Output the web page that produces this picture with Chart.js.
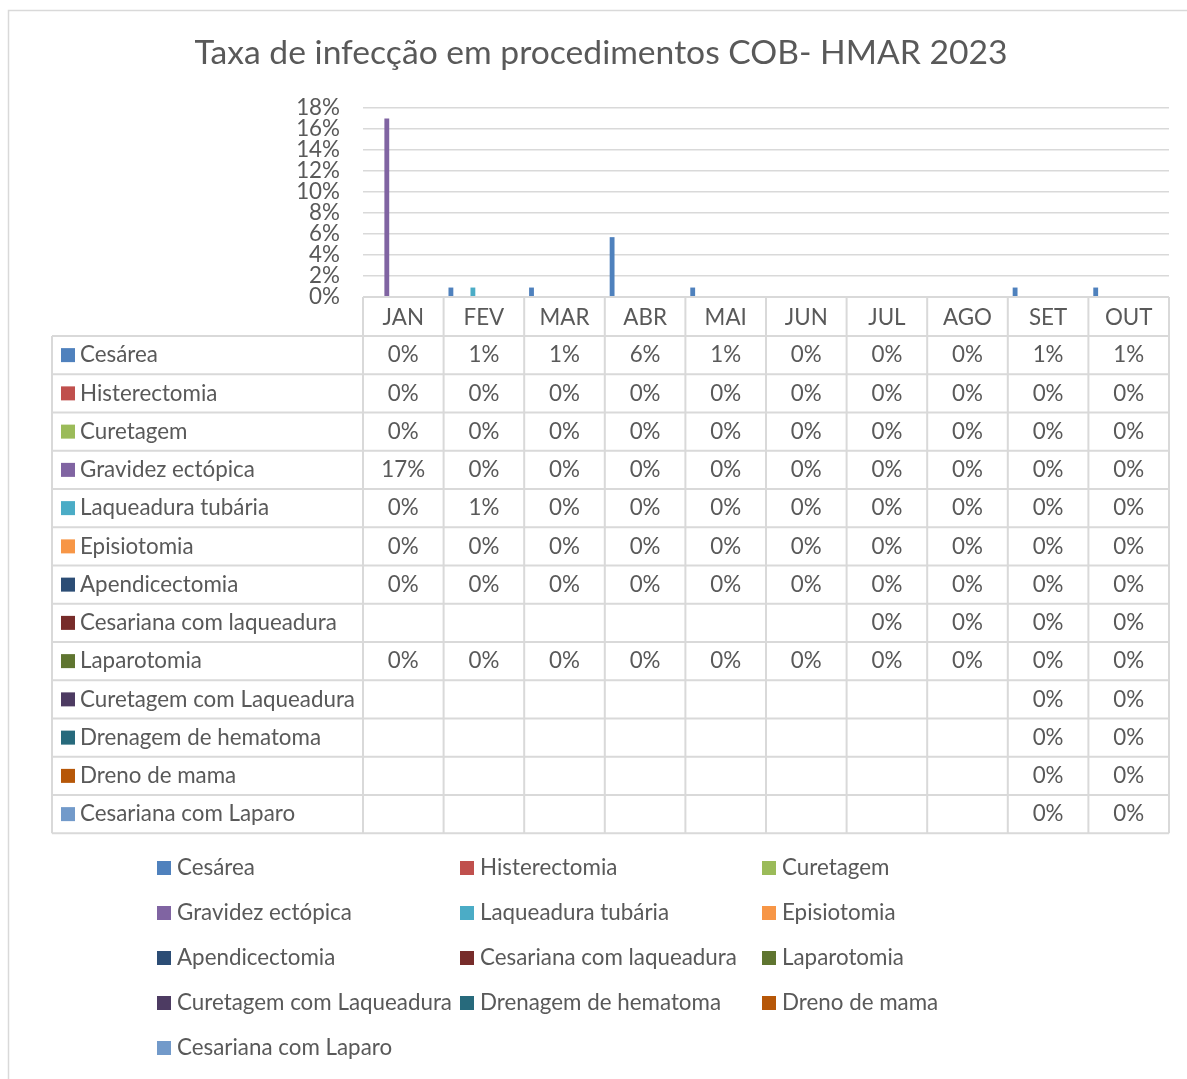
<!DOCTYPE html>
<html><head><meta charset="utf-8">
<script src="https://cdn.jsdelivr.net/npm/chart.js@4.4.0/dist/chart.umd.min.js"></script>
<style>html,body{margin:0;padding:0;background:#fff;overflow:hidden}</style>
</head><body>
<canvas id="c" width="1187" height="1079" style="display:block;width:1187px;height:1079px"></canvas>
<script>
const chartTitle = "Taxa de infecção em procedimentos COB- HMAR 2023";
const months = ["JAN","FEV","MAR","ABR","MAI","JUN","JUL","AGO","SET","OUT"];
const seriesNames = ["Cesárea","Histerectomia","Curetagem","Gravidez ectópica","Laqueadura tubária","Episiotomia","Apendicectomia","Cesariana com laqueadura","Laparotomia","Curetagem com Laqueadura","Drenagem de hematoma","Dreno de mama","Cesariana com Laparo"];
const seriesColors = ["#4F81BD","#C0504D","#9BBB59","#8064A2","#4BACC6","#F79646","#2C4D75","#772C2A","#5F7530","#4D3B62","#276A7C","#B65708","#729ACA"];
const cesarea = [0, 0.009, 0.009, 0.057, 0.009, 0, 0, 0, 0.009, 0.009];
const histerectomia = [0, 0, 0, 0, 0, 0, 0, 0, 0, 0];
const curetagem = [0, 0, 0, 0, 0, 0, 0, 0, 0, 0];
const gravidezEctopica = [0.17, 0, 0, 0, 0, 0, 0, 0, 0, 0];
const laqueaduraTubaria = [0, 0.009, 0, 0, 0, 0, 0, 0, 0, 0];
const episiotomia = [0, 0, 0, 0, 0, 0, 0, 0, 0, 0];
const apendicectomia = [0, 0, 0, 0, 0, 0, 0, 0, 0, 0];
const cesarianaComLaqueadura = [null, null, null, null, null, null, 0, 0, 0, 0];
const laparotomia = [0, 0, 0, 0, 0, 0, 0, 0, 0, 0];
const curetagemComLaqueadura = [null, null, null, null, null, null, null, null, 0, 0];
const drenagemDeHematoma = [null, null, null, null, null, null, null, null, 0, 0];
const drenoDeMama = [null, null, null, null, null, null, null, null, 0, 0];
const cesarianaComLaparo = [null, null, null, null, null, null, null, null, 0, 0];
const seriesValues = [cesarea, histerectomia, curetagem, gravidezEctopica, laqueaduraTubaria, episiotomia, apendicectomia, cesarianaComLaqueadura, laparotomia, curetagemComLaqueadura, drenagemDeHematoma, drenoDeMama, cesarianaComLaparo];
const yMin = 0, yMax = 0.18, yStep = 0.02;

const FAMILY = "Lato, 'Open Sans', sans-serif";
const TEXT = "#595959";
const LINE = "#d9d9d9";
const mc = document.createElement('canvas').getContext('2d');
function fitSize(str, target, weight){ mc.font = (weight||'') + ' 20px ' + FAMILY; return 20 * target / mc.measureText(str).width; }
const S = fitSize("Curetagem com Laqueadura", 275);
const T = fitSize(chartTitle, 813);
const fmt = v => Math.round(v * 100) + '%';

const PLOT_LEFT = 363, PLOT_RIGHT = 1169, PLOT_TOP = 108, PLOT_BOTTOM = 297;
const HEADER_H = 39, ROW_H = 38.25, TABLE_LEFT = 52;

const tablePlugin = {
  id: 'tableAndDecor',
  afterDraw(chart){
    const ctx = chart.ctx, xs = chart.scales.x, a = chart.chartArea;
    const n = months.length;
    const colW = (a.right - a.left) / n;
    ctx.save();
    ctx.strokeStyle = LINE; ctx.lineWidth = 1.5;
    ctx.strokeRect(8.5, 10.5, 1300, 1200);
    ctx.fillStyle = TEXT; ctx.textAlign = 'center'; ctx.textBaseline = 'middle';
    ctx.font = T.toFixed(2) + 'px ' + FAMILY;
    ctx.fillText(chartTitle, 601, 53);
    const hTop = a.bottom, hBot = a.bottom + HEADER_H;
    const tBot = hBot + ROW_H * seriesNames.length;
    ctx.strokeStyle = LINE; ctx.lineWidth = 2;
    ctx.beginPath();
    ctx.moveTo(a.left, hTop); ctx.lineTo(a.right, hTop);
    for (let r = 0; r <= seriesNames.length; r++){
      const y = hBot + r * ROW_H;
      ctx.moveTo(TABLE_LEFT, y); ctx.lineTo(a.right, y);
    }
    ctx.moveTo(TABLE_LEFT, hBot); ctx.lineTo(TABLE_LEFT, tBot);
    for (let i = 0; i <= n; i++){
      const x = (i < n ? xs.getPixelForValue(i) - colW / 2 : xs.getPixelForValue(n - 1) + colW / 2);
      ctx.moveTo(x, hTop); ctx.lineTo(x, tBot);
    }
    ctx.stroke();
    ctx.font = S.toFixed(2) + 'px ' + FAMILY;
    ctx.fillStyle = TEXT; ctx.textAlign = 'center'; ctx.textBaseline = 'middle';
    months.forEach((m, i) => ctx.fillText(m, xs.getPixelForValue(i), (hTop + hBot) / 2 + 1));
    seriesNames.forEach((name, r) => {
      const yc = hBot + (r + 0.5) * ROW_H;
      ctx.fillStyle = seriesColors[r];
      ctx.fillRect(61, yc - 7, 14, 14);
      ctx.fillStyle = TEXT; ctx.textAlign = 'left';
      ctx.fillText(name, 80, yc);
      ctx.textAlign = 'center';
      seriesValues[r].forEach((v, i) => { if (v !== null) ctx.fillText(fmt(v), xs.getPixelForValue(i), yc); });
    });
    const colX = [157, 460, 762];
    seriesNames.forEach((name, k) => {
      const cx = colX[k % 3], cy = 868 + Math.floor(k / 3) * 45;
      ctx.fillStyle = seriesColors[k];
      ctx.fillRect(cx, cy - 7, 14, 14);
      ctx.fillStyle = TEXT; ctx.textAlign = 'left';
      ctx.fillText(name, cx + 20, cy);
    });
    ctx.restore();
  }
};

new Chart(document.getElementById('c'), {
  type: 'bar',
  data: {
    labels: months,
    datasets: seriesNames.map((name, k) => ({
      label: name, data: seriesValues[k], backgroundColor: seriesColors[k], borderWidth: 0
    }))
  },
  options: {
    responsive: false, animation: false, devicePixelRatio: 1,
    layout: { padding: { left: 0, right: 1187 - PLOT_RIGHT, top: PLOT_TOP, bottom: 1079 - PLOT_BOTTOM } },
    datasets: { bar: { categoryPercentage: 0.887, barPercentage: 0.88 } },
    plugins: { legend: { display: false }, title: { display: false }, tooltip: { enabled: false } },
    scales: {
      x: { display: false, offset: true },
      y: {
        min: yMin, max: yMax,
        afterFit(scale){ scale.width = PLOT_LEFT; },
        ticks: { stepSize: yStep, autoSkip: false, callback: v => fmt(v), color: TEXT, font: { family: FAMILY, size: S, lineHeight: 1 }, padding: 23 },
        grid: { color: LINE, lineWidth: 1.5, drawTicks: false },
        border: { display: false }
      }
    }
  },
  plugins: [tablePlugin]
});
</script>
</body></html>
